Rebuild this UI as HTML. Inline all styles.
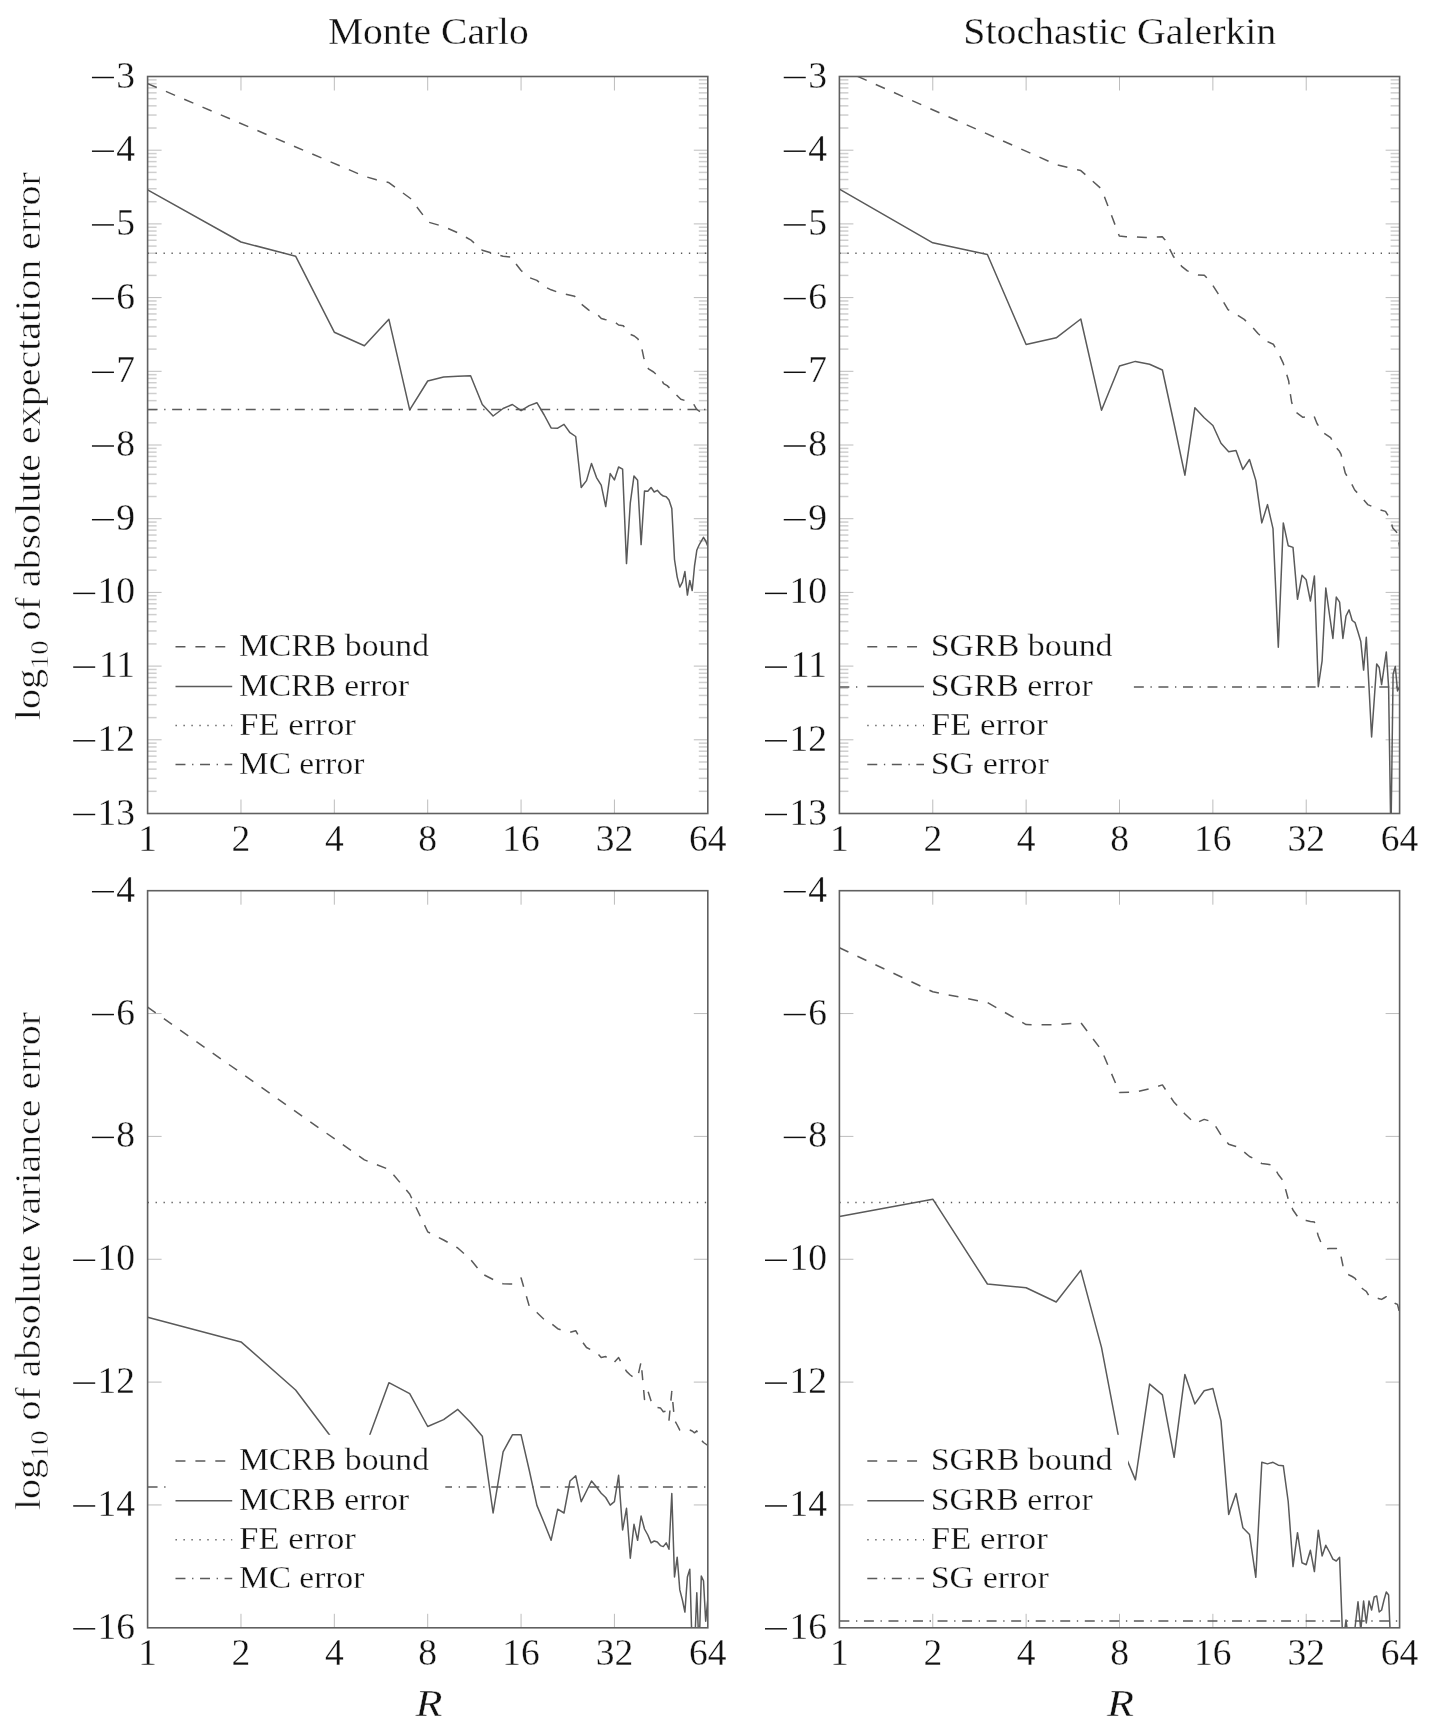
<!DOCTYPE html>
<html><head><meta charset="utf-8"><style>html,body{margin:0;padding:0;background:#fff;}svg{display:block;will-change:transform;}text{stroke:#fff;stroke-width:0.3px;paint-order:fill stroke;}</style></head><body>
<svg width="1434" height="1734" viewBox="0 0 1434 1734" font-family='"Liberation Serif", serif'>
<rect width="100%" height="100%" fill="#fff"/>
<defs>
<clipPath id="ctl"><rect x="147.60" y="76.50" width="560.20" height="737.00"/></clipPath>
<clipPath id="ctr"><rect x="839.40" y="76.50" width="560.20" height="737.00"/></clipPath>
<clipPath id="cbl"><rect x="147.60" y="890.70" width="560.20" height="737.10"/></clipPath>
<clipPath id="cbr"><rect x="839.40" y="890.70" width="560.20" height="737.10"/></clipPath>
</defs>
<text x="428.4" y="43.8" text-anchor="middle" font-size="37.5" fill="#111" textLength="201" lengthAdjust="spacingAndGlyphs">Monte Carlo</text>
<text x="1119.8" y="44.0" text-anchor="middle" font-size="37.5" fill="#111" textLength="313" lengthAdjust="spacingAndGlyphs">Stochastic Galerkin</text>
<line x1="240.97" y1="813.50" x2="240.97" y2="799.50" stroke="#bdbdbd" stroke-width="1"/>
<line x1="240.97" y1="76.50" x2="240.97" y2="90.50" stroke="#bdbdbd" stroke-width="1"/>
<line x1="334.33" y1="813.50" x2="334.33" y2="799.50" stroke="#bdbdbd" stroke-width="1"/>
<line x1="334.33" y1="76.50" x2="334.33" y2="90.50" stroke="#bdbdbd" stroke-width="1"/>
<line x1="427.70" y1="813.50" x2="427.70" y2="799.50" stroke="#bdbdbd" stroke-width="1"/>
<line x1="427.70" y1="76.50" x2="427.70" y2="90.50" stroke="#bdbdbd" stroke-width="1"/>
<line x1="521.07" y1="813.50" x2="521.07" y2="799.50" stroke="#bdbdbd" stroke-width="1"/>
<line x1="521.07" y1="76.50" x2="521.07" y2="90.50" stroke="#bdbdbd" stroke-width="1"/>
<line x1="614.43" y1="813.50" x2="614.43" y2="799.50" stroke="#bdbdbd" stroke-width="1"/>
<line x1="614.43" y1="76.50" x2="614.43" y2="90.50" stroke="#bdbdbd" stroke-width="1"/>
<line x1="147.60" y1="128.01" x2="156.60" y2="128.01" stroke="#cfcfcf" stroke-width="1.5"/>
<line x1="707.80" y1="128.01" x2="698.80" y2="128.01" stroke="#cfcfcf" stroke-width="1.5"/>
<line x1="147.60" y1="115.04" x2="156.60" y2="115.04" stroke="#cfcfcf" stroke-width="1.5"/>
<line x1="707.80" y1="115.04" x2="698.80" y2="115.04" stroke="#cfcfcf" stroke-width="1.5"/>
<line x1="147.60" y1="105.83" x2="156.60" y2="105.83" stroke="#cfcfcf" stroke-width="1.5"/>
<line x1="707.80" y1="105.83" x2="698.80" y2="105.83" stroke="#cfcfcf" stroke-width="1.5"/>
<line x1="147.60" y1="98.69" x2="156.60" y2="98.69" stroke="#cfcfcf" stroke-width="1.5"/>
<line x1="707.80" y1="98.69" x2="698.80" y2="98.69" stroke="#cfcfcf" stroke-width="1.5"/>
<line x1="147.60" y1="92.85" x2="156.60" y2="92.85" stroke="#cfcfcf" stroke-width="1.5"/>
<line x1="707.80" y1="92.85" x2="698.80" y2="92.85" stroke="#cfcfcf" stroke-width="1.5"/>
<line x1="147.60" y1="87.92" x2="156.60" y2="87.92" stroke="#cfcfcf" stroke-width="1.5"/>
<line x1="707.80" y1="87.92" x2="698.80" y2="87.92" stroke="#cfcfcf" stroke-width="1.5"/>
<line x1="147.60" y1="83.64" x2="156.60" y2="83.64" stroke="#cfcfcf" stroke-width="1.5"/>
<line x1="707.80" y1="83.64" x2="698.80" y2="83.64" stroke="#cfcfcf" stroke-width="1.5"/>
<line x1="147.60" y1="79.87" x2="156.60" y2="79.87" stroke="#cfcfcf" stroke-width="1.5"/>
<line x1="707.80" y1="79.87" x2="698.80" y2="79.87" stroke="#cfcfcf" stroke-width="1.5"/>
<line x1="147.60" y1="150.20" x2="161.60" y2="150.20" stroke="#bdbdbd" stroke-width="1"/>
<line x1="707.80" y1="150.20" x2="693.80" y2="150.20" stroke="#bdbdbd" stroke-width="1"/>
<line x1="147.60" y1="201.71" x2="156.60" y2="201.71" stroke="#cfcfcf" stroke-width="1.5"/>
<line x1="707.80" y1="201.71" x2="698.80" y2="201.71" stroke="#cfcfcf" stroke-width="1.5"/>
<line x1="147.60" y1="188.74" x2="156.60" y2="188.74" stroke="#cfcfcf" stroke-width="1.5"/>
<line x1="707.80" y1="188.74" x2="698.80" y2="188.74" stroke="#cfcfcf" stroke-width="1.5"/>
<line x1="147.60" y1="179.53" x2="156.60" y2="179.53" stroke="#cfcfcf" stroke-width="1.5"/>
<line x1="707.80" y1="179.53" x2="698.80" y2="179.53" stroke="#cfcfcf" stroke-width="1.5"/>
<line x1="147.60" y1="172.39" x2="156.60" y2="172.39" stroke="#cfcfcf" stroke-width="1.5"/>
<line x1="707.80" y1="172.39" x2="698.80" y2="172.39" stroke="#cfcfcf" stroke-width="1.5"/>
<line x1="147.60" y1="166.55" x2="156.60" y2="166.55" stroke="#cfcfcf" stroke-width="1.5"/>
<line x1="707.80" y1="166.55" x2="698.80" y2="166.55" stroke="#cfcfcf" stroke-width="1.5"/>
<line x1="147.60" y1="161.62" x2="156.60" y2="161.62" stroke="#cfcfcf" stroke-width="1.5"/>
<line x1="707.80" y1="161.62" x2="698.80" y2="161.62" stroke="#cfcfcf" stroke-width="1.5"/>
<line x1="147.60" y1="157.34" x2="156.60" y2="157.34" stroke="#cfcfcf" stroke-width="1.5"/>
<line x1="707.80" y1="157.34" x2="698.80" y2="157.34" stroke="#cfcfcf" stroke-width="1.5"/>
<line x1="147.60" y1="153.57" x2="156.60" y2="153.57" stroke="#cfcfcf" stroke-width="1.5"/>
<line x1="707.80" y1="153.57" x2="698.80" y2="153.57" stroke="#cfcfcf" stroke-width="1.5"/>
<line x1="147.60" y1="223.90" x2="161.60" y2="223.90" stroke="#bdbdbd" stroke-width="1"/>
<line x1="707.80" y1="223.90" x2="693.80" y2="223.90" stroke="#bdbdbd" stroke-width="1"/>
<line x1="147.60" y1="275.41" x2="156.60" y2="275.41" stroke="#cfcfcf" stroke-width="1.5"/>
<line x1="707.80" y1="275.41" x2="698.80" y2="275.41" stroke="#cfcfcf" stroke-width="1.5"/>
<line x1="147.60" y1="262.44" x2="156.60" y2="262.44" stroke="#cfcfcf" stroke-width="1.5"/>
<line x1="707.80" y1="262.44" x2="698.80" y2="262.44" stroke="#cfcfcf" stroke-width="1.5"/>
<line x1="147.60" y1="253.23" x2="156.60" y2="253.23" stroke="#cfcfcf" stroke-width="1.5"/>
<line x1="707.80" y1="253.23" x2="698.80" y2="253.23" stroke="#cfcfcf" stroke-width="1.5"/>
<line x1="147.60" y1="246.09" x2="156.60" y2="246.09" stroke="#cfcfcf" stroke-width="1.5"/>
<line x1="707.80" y1="246.09" x2="698.80" y2="246.09" stroke="#cfcfcf" stroke-width="1.5"/>
<line x1="147.60" y1="240.25" x2="156.60" y2="240.25" stroke="#cfcfcf" stroke-width="1.5"/>
<line x1="707.80" y1="240.25" x2="698.80" y2="240.25" stroke="#cfcfcf" stroke-width="1.5"/>
<line x1="147.60" y1="235.32" x2="156.60" y2="235.32" stroke="#cfcfcf" stroke-width="1.5"/>
<line x1="707.80" y1="235.32" x2="698.80" y2="235.32" stroke="#cfcfcf" stroke-width="1.5"/>
<line x1="147.60" y1="231.04" x2="156.60" y2="231.04" stroke="#cfcfcf" stroke-width="1.5"/>
<line x1="707.80" y1="231.04" x2="698.80" y2="231.04" stroke="#cfcfcf" stroke-width="1.5"/>
<line x1="147.60" y1="227.27" x2="156.60" y2="227.27" stroke="#cfcfcf" stroke-width="1.5"/>
<line x1="707.80" y1="227.27" x2="698.80" y2="227.27" stroke="#cfcfcf" stroke-width="1.5"/>
<line x1="147.60" y1="297.60" x2="161.60" y2="297.60" stroke="#bdbdbd" stroke-width="1"/>
<line x1="707.80" y1="297.60" x2="693.80" y2="297.60" stroke="#bdbdbd" stroke-width="1"/>
<line x1="147.60" y1="349.11" x2="156.60" y2="349.11" stroke="#cfcfcf" stroke-width="1.5"/>
<line x1="707.80" y1="349.11" x2="698.80" y2="349.11" stroke="#cfcfcf" stroke-width="1.5"/>
<line x1="147.60" y1="336.14" x2="156.60" y2="336.14" stroke="#cfcfcf" stroke-width="1.5"/>
<line x1="707.80" y1="336.14" x2="698.80" y2="336.14" stroke="#cfcfcf" stroke-width="1.5"/>
<line x1="147.60" y1="326.93" x2="156.60" y2="326.93" stroke="#cfcfcf" stroke-width="1.5"/>
<line x1="707.80" y1="326.93" x2="698.80" y2="326.93" stroke="#cfcfcf" stroke-width="1.5"/>
<line x1="147.60" y1="319.79" x2="156.60" y2="319.79" stroke="#cfcfcf" stroke-width="1.5"/>
<line x1="707.80" y1="319.79" x2="698.80" y2="319.79" stroke="#cfcfcf" stroke-width="1.5"/>
<line x1="147.60" y1="313.95" x2="156.60" y2="313.95" stroke="#cfcfcf" stroke-width="1.5"/>
<line x1="707.80" y1="313.95" x2="698.80" y2="313.95" stroke="#cfcfcf" stroke-width="1.5"/>
<line x1="147.60" y1="309.02" x2="156.60" y2="309.02" stroke="#cfcfcf" stroke-width="1.5"/>
<line x1="707.80" y1="309.02" x2="698.80" y2="309.02" stroke="#cfcfcf" stroke-width="1.5"/>
<line x1="147.60" y1="304.74" x2="156.60" y2="304.74" stroke="#cfcfcf" stroke-width="1.5"/>
<line x1="707.80" y1="304.74" x2="698.80" y2="304.74" stroke="#cfcfcf" stroke-width="1.5"/>
<line x1="147.60" y1="300.97" x2="156.60" y2="300.97" stroke="#cfcfcf" stroke-width="1.5"/>
<line x1="707.80" y1="300.97" x2="698.80" y2="300.97" stroke="#cfcfcf" stroke-width="1.5"/>
<line x1="147.60" y1="371.30" x2="161.60" y2="371.30" stroke="#bdbdbd" stroke-width="1"/>
<line x1="707.80" y1="371.30" x2="693.80" y2="371.30" stroke="#bdbdbd" stroke-width="1"/>
<line x1="147.60" y1="422.81" x2="156.60" y2="422.81" stroke="#cfcfcf" stroke-width="1.5"/>
<line x1="707.80" y1="422.81" x2="698.80" y2="422.81" stroke="#cfcfcf" stroke-width="1.5"/>
<line x1="147.60" y1="409.84" x2="156.60" y2="409.84" stroke="#cfcfcf" stroke-width="1.5"/>
<line x1="707.80" y1="409.84" x2="698.80" y2="409.84" stroke="#cfcfcf" stroke-width="1.5"/>
<line x1="147.60" y1="400.63" x2="156.60" y2="400.63" stroke="#cfcfcf" stroke-width="1.5"/>
<line x1="707.80" y1="400.63" x2="698.80" y2="400.63" stroke="#cfcfcf" stroke-width="1.5"/>
<line x1="147.60" y1="393.49" x2="156.60" y2="393.49" stroke="#cfcfcf" stroke-width="1.5"/>
<line x1="707.80" y1="393.49" x2="698.80" y2="393.49" stroke="#cfcfcf" stroke-width="1.5"/>
<line x1="147.60" y1="387.65" x2="156.60" y2="387.65" stroke="#cfcfcf" stroke-width="1.5"/>
<line x1="707.80" y1="387.65" x2="698.80" y2="387.65" stroke="#cfcfcf" stroke-width="1.5"/>
<line x1="147.60" y1="382.72" x2="156.60" y2="382.72" stroke="#cfcfcf" stroke-width="1.5"/>
<line x1="707.80" y1="382.72" x2="698.80" y2="382.72" stroke="#cfcfcf" stroke-width="1.5"/>
<line x1="147.60" y1="378.44" x2="156.60" y2="378.44" stroke="#cfcfcf" stroke-width="1.5"/>
<line x1="707.80" y1="378.44" x2="698.80" y2="378.44" stroke="#cfcfcf" stroke-width="1.5"/>
<line x1="147.60" y1="374.67" x2="156.60" y2="374.67" stroke="#cfcfcf" stroke-width="1.5"/>
<line x1="707.80" y1="374.67" x2="698.80" y2="374.67" stroke="#cfcfcf" stroke-width="1.5"/>
<line x1="147.60" y1="445.00" x2="161.60" y2="445.00" stroke="#bdbdbd" stroke-width="1"/>
<line x1="707.80" y1="445.00" x2="693.80" y2="445.00" stroke="#bdbdbd" stroke-width="1"/>
<line x1="147.60" y1="496.51" x2="156.60" y2="496.51" stroke="#cfcfcf" stroke-width="1.5"/>
<line x1="707.80" y1="496.51" x2="698.80" y2="496.51" stroke="#cfcfcf" stroke-width="1.5"/>
<line x1="147.60" y1="483.54" x2="156.60" y2="483.54" stroke="#cfcfcf" stroke-width="1.5"/>
<line x1="707.80" y1="483.54" x2="698.80" y2="483.54" stroke="#cfcfcf" stroke-width="1.5"/>
<line x1="147.60" y1="474.33" x2="156.60" y2="474.33" stroke="#cfcfcf" stroke-width="1.5"/>
<line x1="707.80" y1="474.33" x2="698.80" y2="474.33" stroke="#cfcfcf" stroke-width="1.5"/>
<line x1="147.60" y1="467.19" x2="156.60" y2="467.19" stroke="#cfcfcf" stroke-width="1.5"/>
<line x1="707.80" y1="467.19" x2="698.80" y2="467.19" stroke="#cfcfcf" stroke-width="1.5"/>
<line x1="147.60" y1="461.35" x2="156.60" y2="461.35" stroke="#cfcfcf" stroke-width="1.5"/>
<line x1="707.80" y1="461.35" x2="698.80" y2="461.35" stroke="#cfcfcf" stroke-width="1.5"/>
<line x1="147.60" y1="456.42" x2="156.60" y2="456.42" stroke="#cfcfcf" stroke-width="1.5"/>
<line x1="707.80" y1="456.42" x2="698.80" y2="456.42" stroke="#cfcfcf" stroke-width="1.5"/>
<line x1="147.60" y1="452.14" x2="156.60" y2="452.14" stroke="#cfcfcf" stroke-width="1.5"/>
<line x1="707.80" y1="452.14" x2="698.80" y2="452.14" stroke="#cfcfcf" stroke-width="1.5"/>
<line x1="147.60" y1="448.37" x2="156.60" y2="448.37" stroke="#cfcfcf" stroke-width="1.5"/>
<line x1="707.80" y1="448.37" x2="698.80" y2="448.37" stroke="#cfcfcf" stroke-width="1.5"/>
<line x1="147.60" y1="518.70" x2="161.60" y2="518.70" stroke="#bdbdbd" stroke-width="1"/>
<line x1="707.80" y1="518.70" x2="693.80" y2="518.70" stroke="#bdbdbd" stroke-width="1"/>
<line x1="147.60" y1="570.21" x2="156.60" y2="570.21" stroke="#cfcfcf" stroke-width="1.5"/>
<line x1="707.80" y1="570.21" x2="698.80" y2="570.21" stroke="#cfcfcf" stroke-width="1.5"/>
<line x1="147.60" y1="557.24" x2="156.60" y2="557.24" stroke="#cfcfcf" stroke-width="1.5"/>
<line x1="707.80" y1="557.24" x2="698.80" y2="557.24" stroke="#cfcfcf" stroke-width="1.5"/>
<line x1="147.60" y1="548.03" x2="156.60" y2="548.03" stroke="#cfcfcf" stroke-width="1.5"/>
<line x1="707.80" y1="548.03" x2="698.80" y2="548.03" stroke="#cfcfcf" stroke-width="1.5"/>
<line x1="147.60" y1="540.89" x2="156.60" y2="540.89" stroke="#cfcfcf" stroke-width="1.5"/>
<line x1="707.80" y1="540.89" x2="698.80" y2="540.89" stroke="#cfcfcf" stroke-width="1.5"/>
<line x1="147.60" y1="535.05" x2="156.60" y2="535.05" stroke="#cfcfcf" stroke-width="1.5"/>
<line x1="707.80" y1="535.05" x2="698.80" y2="535.05" stroke="#cfcfcf" stroke-width="1.5"/>
<line x1="147.60" y1="530.12" x2="156.60" y2="530.12" stroke="#cfcfcf" stroke-width="1.5"/>
<line x1="707.80" y1="530.12" x2="698.80" y2="530.12" stroke="#cfcfcf" stroke-width="1.5"/>
<line x1="147.60" y1="525.84" x2="156.60" y2="525.84" stroke="#cfcfcf" stroke-width="1.5"/>
<line x1="707.80" y1="525.84" x2="698.80" y2="525.84" stroke="#cfcfcf" stroke-width="1.5"/>
<line x1="147.60" y1="522.07" x2="156.60" y2="522.07" stroke="#cfcfcf" stroke-width="1.5"/>
<line x1="707.80" y1="522.07" x2="698.80" y2="522.07" stroke="#cfcfcf" stroke-width="1.5"/>
<line x1="147.60" y1="592.40" x2="161.60" y2="592.40" stroke="#bdbdbd" stroke-width="1"/>
<line x1="707.80" y1="592.40" x2="693.80" y2="592.40" stroke="#bdbdbd" stroke-width="1"/>
<line x1="147.60" y1="643.91" x2="156.60" y2="643.91" stroke="#cfcfcf" stroke-width="1.5"/>
<line x1="707.80" y1="643.91" x2="698.80" y2="643.91" stroke="#cfcfcf" stroke-width="1.5"/>
<line x1="147.60" y1="630.94" x2="156.60" y2="630.94" stroke="#cfcfcf" stroke-width="1.5"/>
<line x1="707.80" y1="630.94" x2="698.80" y2="630.94" stroke="#cfcfcf" stroke-width="1.5"/>
<line x1="147.60" y1="621.73" x2="156.60" y2="621.73" stroke="#cfcfcf" stroke-width="1.5"/>
<line x1="707.80" y1="621.73" x2="698.80" y2="621.73" stroke="#cfcfcf" stroke-width="1.5"/>
<line x1="147.60" y1="614.59" x2="156.60" y2="614.59" stroke="#cfcfcf" stroke-width="1.5"/>
<line x1="707.80" y1="614.59" x2="698.80" y2="614.59" stroke="#cfcfcf" stroke-width="1.5"/>
<line x1="147.60" y1="608.75" x2="156.60" y2="608.75" stroke="#cfcfcf" stroke-width="1.5"/>
<line x1="707.80" y1="608.75" x2="698.80" y2="608.75" stroke="#cfcfcf" stroke-width="1.5"/>
<line x1="147.60" y1="603.82" x2="156.60" y2="603.82" stroke="#cfcfcf" stroke-width="1.5"/>
<line x1="707.80" y1="603.82" x2="698.80" y2="603.82" stroke="#cfcfcf" stroke-width="1.5"/>
<line x1="147.60" y1="599.54" x2="156.60" y2="599.54" stroke="#cfcfcf" stroke-width="1.5"/>
<line x1="707.80" y1="599.54" x2="698.80" y2="599.54" stroke="#cfcfcf" stroke-width="1.5"/>
<line x1="147.60" y1="595.77" x2="156.60" y2="595.77" stroke="#cfcfcf" stroke-width="1.5"/>
<line x1="707.80" y1="595.77" x2="698.80" y2="595.77" stroke="#cfcfcf" stroke-width="1.5"/>
<line x1="147.60" y1="666.10" x2="161.60" y2="666.10" stroke="#bdbdbd" stroke-width="1"/>
<line x1="707.80" y1="666.10" x2="693.80" y2="666.10" stroke="#bdbdbd" stroke-width="1"/>
<line x1="147.60" y1="717.61" x2="156.60" y2="717.61" stroke="#cfcfcf" stroke-width="1.5"/>
<line x1="707.80" y1="717.61" x2="698.80" y2="717.61" stroke="#cfcfcf" stroke-width="1.5"/>
<line x1="147.60" y1="704.64" x2="156.60" y2="704.64" stroke="#cfcfcf" stroke-width="1.5"/>
<line x1="707.80" y1="704.64" x2="698.80" y2="704.64" stroke="#cfcfcf" stroke-width="1.5"/>
<line x1="147.60" y1="695.43" x2="156.60" y2="695.43" stroke="#cfcfcf" stroke-width="1.5"/>
<line x1="707.80" y1="695.43" x2="698.80" y2="695.43" stroke="#cfcfcf" stroke-width="1.5"/>
<line x1="147.60" y1="688.29" x2="156.60" y2="688.29" stroke="#cfcfcf" stroke-width="1.5"/>
<line x1="707.80" y1="688.29" x2="698.80" y2="688.29" stroke="#cfcfcf" stroke-width="1.5"/>
<line x1="147.60" y1="682.45" x2="156.60" y2="682.45" stroke="#cfcfcf" stroke-width="1.5"/>
<line x1="707.80" y1="682.45" x2="698.80" y2="682.45" stroke="#cfcfcf" stroke-width="1.5"/>
<line x1="147.60" y1="677.52" x2="156.60" y2="677.52" stroke="#cfcfcf" stroke-width="1.5"/>
<line x1="707.80" y1="677.52" x2="698.80" y2="677.52" stroke="#cfcfcf" stroke-width="1.5"/>
<line x1="147.60" y1="673.24" x2="156.60" y2="673.24" stroke="#cfcfcf" stroke-width="1.5"/>
<line x1="707.80" y1="673.24" x2="698.80" y2="673.24" stroke="#cfcfcf" stroke-width="1.5"/>
<line x1="147.60" y1="669.47" x2="156.60" y2="669.47" stroke="#cfcfcf" stroke-width="1.5"/>
<line x1="707.80" y1="669.47" x2="698.80" y2="669.47" stroke="#cfcfcf" stroke-width="1.5"/>
<line x1="147.60" y1="739.80" x2="161.60" y2="739.80" stroke="#bdbdbd" stroke-width="1"/>
<line x1="707.80" y1="739.80" x2="693.80" y2="739.80" stroke="#bdbdbd" stroke-width="1"/>
<line x1="147.60" y1="791.31" x2="156.60" y2="791.31" stroke="#cfcfcf" stroke-width="1.5"/>
<line x1="707.80" y1="791.31" x2="698.80" y2="791.31" stroke="#cfcfcf" stroke-width="1.5"/>
<line x1="147.60" y1="778.34" x2="156.60" y2="778.34" stroke="#cfcfcf" stroke-width="1.5"/>
<line x1="707.80" y1="778.34" x2="698.80" y2="778.34" stroke="#cfcfcf" stroke-width="1.5"/>
<line x1="147.60" y1="769.13" x2="156.60" y2="769.13" stroke="#cfcfcf" stroke-width="1.5"/>
<line x1="707.80" y1="769.13" x2="698.80" y2="769.13" stroke="#cfcfcf" stroke-width="1.5"/>
<line x1="147.60" y1="761.99" x2="156.60" y2="761.99" stroke="#cfcfcf" stroke-width="1.5"/>
<line x1="707.80" y1="761.99" x2="698.80" y2="761.99" stroke="#cfcfcf" stroke-width="1.5"/>
<line x1="147.60" y1="756.15" x2="156.60" y2="756.15" stroke="#cfcfcf" stroke-width="1.5"/>
<line x1="707.80" y1="756.15" x2="698.80" y2="756.15" stroke="#cfcfcf" stroke-width="1.5"/>
<line x1="147.60" y1="751.22" x2="156.60" y2="751.22" stroke="#cfcfcf" stroke-width="1.5"/>
<line x1="707.80" y1="751.22" x2="698.80" y2="751.22" stroke="#cfcfcf" stroke-width="1.5"/>
<line x1="147.60" y1="746.94" x2="156.60" y2="746.94" stroke="#cfcfcf" stroke-width="1.5"/>
<line x1="707.80" y1="746.94" x2="698.80" y2="746.94" stroke="#cfcfcf" stroke-width="1.5"/>
<line x1="147.60" y1="743.17" x2="156.60" y2="743.17" stroke="#cfcfcf" stroke-width="1.5"/>
<line x1="707.80" y1="743.17" x2="698.80" y2="743.17" stroke="#cfcfcf" stroke-width="1.5"/>
<text x="135.10" y="87.50" text-anchor="end" font-size="37.5" fill="#111">3</text>
<rect x="91.95" y="76.78" width="22.00" height="1.45" fill="#111"/>
<text x="135.10" y="161.20" text-anchor="end" font-size="37.5" fill="#111">4</text>
<rect x="91.95" y="150.47" width="22.00" height="1.45" fill="#111"/>
<text x="135.10" y="234.90" text-anchor="end" font-size="37.5" fill="#111">5</text>
<rect x="91.95" y="224.18" width="22.00" height="1.45" fill="#111"/>
<text x="135.10" y="308.60" text-anchor="end" font-size="37.5" fill="#111">6</text>
<rect x="91.95" y="297.88" width="22.00" height="1.45" fill="#111"/>
<text x="135.10" y="382.30" text-anchor="end" font-size="37.5" fill="#111">7</text>
<rect x="91.95" y="371.57" width="22.00" height="1.45" fill="#111"/>
<text x="135.10" y="456.00" text-anchor="end" font-size="37.5" fill="#111">8</text>
<rect x="91.95" y="445.27" width="22.00" height="1.45" fill="#111"/>
<text x="135.10" y="529.70" text-anchor="end" font-size="37.5" fill="#111">9</text>
<rect x="91.95" y="518.98" width="22.00" height="1.45" fill="#111"/>
<text x="135.10" y="603.40" text-anchor="end" font-size="37.5" fill="#111">10</text>
<rect x="73.20" y="592.67" width="22.00" height="1.45" fill="#111"/>
<text x="135.10" y="677.10" text-anchor="end" font-size="37.5" fill="#111">11</text>
<rect x="73.20" y="666.38" width="22.00" height="1.45" fill="#111"/>
<text x="135.10" y="750.80" text-anchor="end" font-size="37.5" fill="#111">12</text>
<rect x="73.20" y="740.07" width="22.00" height="1.45" fill="#111"/>
<text x="135.10" y="824.50" text-anchor="end" font-size="37.5" fill="#111">13</text>
<rect x="73.20" y="813.77" width="22.00" height="1.45" fill="#111"/>
<text x="147.60" y="850.50" text-anchor="middle" font-size="37.5" fill="#111">1</text>
<text x="240.97" y="850.50" text-anchor="middle" font-size="37.5" fill="#111">2</text>
<text x="334.33" y="850.50" text-anchor="middle" font-size="37.5" fill="#111">4</text>
<text x="427.70" y="850.50" text-anchor="middle" font-size="37.5" fill="#111">8</text>
<text x="521.07" y="850.50" text-anchor="middle" font-size="37.5" fill="#111">16</text>
<text x="614.43" y="850.50" text-anchor="middle" font-size="37.5" fill="#111">32</text>
<text x="707.80" y="850.50" text-anchor="middle" font-size="37.5" fill="#111">64</text>
<polyline points="147.6,253.3 707.8,253.3" fill="none" stroke="#5a5a5a" stroke-width="1.5" stroke-linejoin="round" stroke-dasharray="1.33 6.63" clip-path="url(#ctl)"/>
<polyline points="147.6,409.5 707.8,409.5" fill="none" stroke="#5a5a5a" stroke-width="1.5" stroke-linejoin="round" stroke-dasharray="9.95 6.63 1.33 6.63" clip-path="url(#ctl)"/>
<polyline points="147.6,83.6 364.4,176.3 376.4,179.8 388.5,182.4 410.5,198.5 428.3,222.1 443.6,226.5 457.8,232.8 470.6,239.8 482.3,250.2 493.1,253.5 503.1,256.3 512.4,257.3 515.0,262.7 521.1,270.5 529.3,277.6 536.9,280.4 544.2,286.4 551.1,289.8 557.7,292.2 565.2,294.1 574.6,296.2 580.9,303.8 588.8,310.1 597.1,314.0 601.3,318.5 605.0,319.5 614.4,321.8 618.6,325.0 623.3,325.7 629.0,333.9 634.3,336.0 637.9,338.8 641.6,347.5 643.7,357.4 646.3,366.8 648.9,369.1 653.6,372.0 661.0,378.8 663.6,383.6 667.2,385.6 674.0,392.4 680.8,399.2 690.8,402.4 693.9,404.5 696.5,409.2 704.9,414.9 707.8,418.3" fill="none" stroke="#5a5a5a" stroke-width="1.5" stroke-linejoin="round" stroke-dasharray="9.95 9.95" clip-path="url(#ctl)"/>
<polyline points="147.6,189.9 241.0,242.0 295.6,256.2 334.3,332.2 364.4,345.8 388.9,319.3 409.7,409.9 427.7,381.0 443.6,376.9 457.8,376.3 470.6,375.7 482.3,404.5 493.1,416.0 503.1,408.5 512.4,404.5 521.1,410.7 529.2,405.6 536.9,402.7 544.2,415.0 551.1,427.9 557.7,428.2 564.0,424.4 570.0,432.7 575.7,436.5 581.2,487.5 586.5,480.6 591.5,463.4 596.5,477.6 601.2,485.2 605.7,506.6 610.2,473.6 614.4,479.9 618.6,467.0 622.6,469.1 626.5,563.6 630.3,502.8 634.0,475.9 637.6,480.2 641.1,544.6 644.5,491.1 647.8,491.3 651.1,487.5 654.2,492.0 657.3,490.3 660.4,493.8 663.3,496.1 666.2,496.7 669.0,500.1 671.8,508.5 674.5,559.5 677.2,577.1 679.8,587.1 682.4,582.1 684.9,571.6 687.4,595.1 689.8,580.4 692.2,590.5 694.5,566.2 696.8,550.3 699.1,545.0 701.3,541.1 703.5,537.3 705.7,541.0 707.8,546.1" fill="none" stroke="#5a5a5a" stroke-width="1.5" stroke-linejoin="round" clip-path="url(#ctl)"/>
<rect x="166.60" y="620.60" width="278.70" height="171.00" fill="#fff"/>
<polyline points="175.5,646.8 232.2,646.8" fill="none" stroke="#5a5a5a" stroke-width="1.5" stroke-linejoin="round" stroke-dasharray="9.95 9.95"/>
<text x="238.90" y="656.00" font-size="31" fill="#111" textLength="190.2" lengthAdjust="spacingAndGlyphs">MCRB bound</text>
<polyline points="175.5,686.5 232.2,686.5" fill="none" stroke="#5a5a5a" stroke-width="1.5" stroke-linejoin="round"/>
<text x="238.90" y="695.70" font-size="31" fill="#111" textLength="170.4" lengthAdjust="spacingAndGlyphs">MCRB error</text>
<polyline points="175.5,725.6 232.2,725.6" fill="none" stroke="#5a5a5a" stroke-width="1.5" stroke-linejoin="round" stroke-dasharray="1.33 6.63"/>
<text x="238.90" y="734.80" font-size="31" fill="#111" textLength="117.0" lengthAdjust="spacingAndGlyphs">FE error</text>
<polyline points="175.5,764.4 232.2,764.4" fill="none" stroke="#5a5a5a" stroke-width="1.5" stroke-linejoin="round" stroke-dasharray="9.95 6.63 1.33 6.63"/>
<text x="238.90" y="773.60" font-size="31" fill="#111" textLength="125.4" lengthAdjust="spacingAndGlyphs">MC error</text>
<rect x="147.60" y="76.50" width="560.20" height="737.00" fill="none" stroke="#606060" stroke-width="1.6"/>
<line x1="932.77" y1="813.50" x2="932.77" y2="799.50" stroke="#bdbdbd" stroke-width="1"/>
<line x1="932.77" y1="76.50" x2="932.77" y2="90.50" stroke="#bdbdbd" stroke-width="1"/>
<line x1="1026.13" y1="813.50" x2="1026.13" y2="799.50" stroke="#bdbdbd" stroke-width="1"/>
<line x1="1026.13" y1="76.50" x2="1026.13" y2="90.50" stroke="#bdbdbd" stroke-width="1"/>
<line x1="1119.50" y1="813.50" x2="1119.50" y2="799.50" stroke="#bdbdbd" stroke-width="1"/>
<line x1="1119.50" y1="76.50" x2="1119.50" y2="90.50" stroke="#bdbdbd" stroke-width="1"/>
<line x1="1212.87" y1="813.50" x2="1212.87" y2="799.50" stroke="#bdbdbd" stroke-width="1"/>
<line x1="1212.87" y1="76.50" x2="1212.87" y2="90.50" stroke="#bdbdbd" stroke-width="1"/>
<line x1="1306.23" y1="813.50" x2="1306.23" y2="799.50" stroke="#bdbdbd" stroke-width="1"/>
<line x1="1306.23" y1="76.50" x2="1306.23" y2="90.50" stroke="#bdbdbd" stroke-width="1"/>
<line x1="839.40" y1="128.01" x2="848.40" y2="128.01" stroke="#cfcfcf" stroke-width="1.5"/>
<line x1="1399.60" y1="128.01" x2="1390.60" y2="128.01" stroke="#cfcfcf" stroke-width="1.5"/>
<line x1="839.40" y1="115.04" x2="848.40" y2="115.04" stroke="#cfcfcf" stroke-width="1.5"/>
<line x1="1399.60" y1="115.04" x2="1390.60" y2="115.04" stroke="#cfcfcf" stroke-width="1.5"/>
<line x1="839.40" y1="105.83" x2="848.40" y2="105.83" stroke="#cfcfcf" stroke-width="1.5"/>
<line x1="1399.60" y1="105.83" x2="1390.60" y2="105.83" stroke="#cfcfcf" stroke-width="1.5"/>
<line x1="839.40" y1="98.69" x2="848.40" y2="98.69" stroke="#cfcfcf" stroke-width="1.5"/>
<line x1="1399.60" y1="98.69" x2="1390.60" y2="98.69" stroke="#cfcfcf" stroke-width="1.5"/>
<line x1="839.40" y1="92.85" x2="848.40" y2="92.85" stroke="#cfcfcf" stroke-width="1.5"/>
<line x1="1399.60" y1="92.85" x2="1390.60" y2="92.85" stroke="#cfcfcf" stroke-width="1.5"/>
<line x1="839.40" y1="87.92" x2="848.40" y2="87.92" stroke="#cfcfcf" stroke-width="1.5"/>
<line x1="1399.60" y1="87.92" x2="1390.60" y2="87.92" stroke="#cfcfcf" stroke-width="1.5"/>
<line x1="839.40" y1="83.64" x2="848.40" y2="83.64" stroke="#cfcfcf" stroke-width="1.5"/>
<line x1="1399.60" y1="83.64" x2="1390.60" y2="83.64" stroke="#cfcfcf" stroke-width="1.5"/>
<line x1="839.40" y1="79.87" x2="848.40" y2="79.87" stroke="#cfcfcf" stroke-width="1.5"/>
<line x1="1399.60" y1="79.87" x2="1390.60" y2="79.87" stroke="#cfcfcf" stroke-width="1.5"/>
<line x1="839.40" y1="150.20" x2="853.40" y2="150.20" stroke="#bdbdbd" stroke-width="1"/>
<line x1="1399.60" y1="150.20" x2="1385.60" y2="150.20" stroke="#bdbdbd" stroke-width="1"/>
<line x1="839.40" y1="201.71" x2="848.40" y2="201.71" stroke="#cfcfcf" stroke-width="1.5"/>
<line x1="1399.60" y1="201.71" x2="1390.60" y2="201.71" stroke="#cfcfcf" stroke-width="1.5"/>
<line x1="839.40" y1="188.74" x2="848.40" y2="188.74" stroke="#cfcfcf" stroke-width="1.5"/>
<line x1="1399.60" y1="188.74" x2="1390.60" y2="188.74" stroke="#cfcfcf" stroke-width="1.5"/>
<line x1="839.40" y1="179.53" x2="848.40" y2="179.53" stroke="#cfcfcf" stroke-width="1.5"/>
<line x1="1399.60" y1="179.53" x2="1390.60" y2="179.53" stroke="#cfcfcf" stroke-width="1.5"/>
<line x1="839.40" y1="172.39" x2="848.40" y2="172.39" stroke="#cfcfcf" stroke-width="1.5"/>
<line x1="1399.60" y1="172.39" x2="1390.60" y2="172.39" stroke="#cfcfcf" stroke-width="1.5"/>
<line x1="839.40" y1="166.55" x2="848.40" y2="166.55" stroke="#cfcfcf" stroke-width="1.5"/>
<line x1="1399.60" y1="166.55" x2="1390.60" y2="166.55" stroke="#cfcfcf" stroke-width="1.5"/>
<line x1="839.40" y1="161.62" x2="848.40" y2="161.62" stroke="#cfcfcf" stroke-width="1.5"/>
<line x1="1399.60" y1="161.62" x2="1390.60" y2="161.62" stroke="#cfcfcf" stroke-width="1.5"/>
<line x1="839.40" y1="157.34" x2="848.40" y2="157.34" stroke="#cfcfcf" stroke-width="1.5"/>
<line x1="1399.60" y1="157.34" x2="1390.60" y2="157.34" stroke="#cfcfcf" stroke-width="1.5"/>
<line x1="839.40" y1="153.57" x2="848.40" y2="153.57" stroke="#cfcfcf" stroke-width="1.5"/>
<line x1="1399.60" y1="153.57" x2="1390.60" y2="153.57" stroke="#cfcfcf" stroke-width="1.5"/>
<line x1="839.40" y1="223.90" x2="853.40" y2="223.90" stroke="#bdbdbd" stroke-width="1"/>
<line x1="1399.60" y1="223.90" x2="1385.60" y2="223.90" stroke="#bdbdbd" stroke-width="1"/>
<line x1="839.40" y1="275.41" x2="848.40" y2="275.41" stroke="#cfcfcf" stroke-width="1.5"/>
<line x1="1399.60" y1="275.41" x2="1390.60" y2="275.41" stroke="#cfcfcf" stroke-width="1.5"/>
<line x1="839.40" y1="262.44" x2="848.40" y2="262.44" stroke="#cfcfcf" stroke-width="1.5"/>
<line x1="1399.60" y1="262.44" x2="1390.60" y2="262.44" stroke="#cfcfcf" stroke-width="1.5"/>
<line x1="839.40" y1="253.23" x2="848.40" y2="253.23" stroke="#cfcfcf" stroke-width="1.5"/>
<line x1="1399.60" y1="253.23" x2="1390.60" y2="253.23" stroke="#cfcfcf" stroke-width="1.5"/>
<line x1="839.40" y1="246.09" x2="848.40" y2="246.09" stroke="#cfcfcf" stroke-width="1.5"/>
<line x1="1399.60" y1="246.09" x2="1390.60" y2="246.09" stroke="#cfcfcf" stroke-width="1.5"/>
<line x1="839.40" y1="240.25" x2="848.40" y2="240.25" stroke="#cfcfcf" stroke-width="1.5"/>
<line x1="1399.60" y1="240.25" x2="1390.60" y2="240.25" stroke="#cfcfcf" stroke-width="1.5"/>
<line x1="839.40" y1="235.32" x2="848.40" y2="235.32" stroke="#cfcfcf" stroke-width="1.5"/>
<line x1="1399.60" y1="235.32" x2="1390.60" y2="235.32" stroke="#cfcfcf" stroke-width="1.5"/>
<line x1="839.40" y1="231.04" x2="848.40" y2="231.04" stroke="#cfcfcf" stroke-width="1.5"/>
<line x1="1399.60" y1="231.04" x2="1390.60" y2="231.04" stroke="#cfcfcf" stroke-width="1.5"/>
<line x1="839.40" y1="227.27" x2="848.40" y2="227.27" stroke="#cfcfcf" stroke-width="1.5"/>
<line x1="1399.60" y1="227.27" x2="1390.60" y2="227.27" stroke="#cfcfcf" stroke-width="1.5"/>
<line x1="839.40" y1="297.60" x2="853.40" y2="297.60" stroke="#bdbdbd" stroke-width="1"/>
<line x1="1399.60" y1="297.60" x2="1385.60" y2="297.60" stroke="#bdbdbd" stroke-width="1"/>
<line x1="839.40" y1="349.11" x2="848.40" y2="349.11" stroke="#cfcfcf" stroke-width="1.5"/>
<line x1="1399.60" y1="349.11" x2="1390.60" y2="349.11" stroke="#cfcfcf" stroke-width="1.5"/>
<line x1="839.40" y1="336.14" x2="848.40" y2="336.14" stroke="#cfcfcf" stroke-width="1.5"/>
<line x1="1399.60" y1="336.14" x2="1390.60" y2="336.14" stroke="#cfcfcf" stroke-width="1.5"/>
<line x1="839.40" y1="326.93" x2="848.40" y2="326.93" stroke="#cfcfcf" stroke-width="1.5"/>
<line x1="1399.60" y1="326.93" x2="1390.60" y2="326.93" stroke="#cfcfcf" stroke-width="1.5"/>
<line x1="839.40" y1="319.79" x2="848.40" y2="319.79" stroke="#cfcfcf" stroke-width="1.5"/>
<line x1="1399.60" y1="319.79" x2="1390.60" y2="319.79" stroke="#cfcfcf" stroke-width="1.5"/>
<line x1="839.40" y1="313.95" x2="848.40" y2="313.95" stroke="#cfcfcf" stroke-width="1.5"/>
<line x1="1399.60" y1="313.95" x2="1390.60" y2="313.95" stroke="#cfcfcf" stroke-width="1.5"/>
<line x1="839.40" y1="309.02" x2="848.40" y2="309.02" stroke="#cfcfcf" stroke-width="1.5"/>
<line x1="1399.60" y1="309.02" x2="1390.60" y2="309.02" stroke="#cfcfcf" stroke-width="1.5"/>
<line x1="839.40" y1="304.74" x2="848.40" y2="304.74" stroke="#cfcfcf" stroke-width="1.5"/>
<line x1="1399.60" y1="304.74" x2="1390.60" y2="304.74" stroke="#cfcfcf" stroke-width="1.5"/>
<line x1="839.40" y1="300.97" x2="848.40" y2="300.97" stroke="#cfcfcf" stroke-width="1.5"/>
<line x1="1399.60" y1="300.97" x2="1390.60" y2="300.97" stroke="#cfcfcf" stroke-width="1.5"/>
<line x1="839.40" y1="371.30" x2="853.40" y2="371.30" stroke="#bdbdbd" stroke-width="1"/>
<line x1="1399.60" y1="371.30" x2="1385.60" y2="371.30" stroke="#bdbdbd" stroke-width="1"/>
<line x1="839.40" y1="422.81" x2="848.40" y2="422.81" stroke="#cfcfcf" stroke-width="1.5"/>
<line x1="1399.60" y1="422.81" x2="1390.60" y2="422.81" stroke="#cfcfcf" stroke-width="1.5"/>
<line x1="839.40" y1="409.84" x2="848.40" y2="409.84" stroke="#cfcfcf" stroke-width="1.5"/>
<line x1="1399.60" y1="409.84" x2="1390.60" y2="409.84" stroke="#cfcfcf" stroke-width="1.5"/>
<line x1="839.40" y1="400.63" x2="848.40" y2="400.63" stroke="#cfcfcf" stroke-width="1.5"/>
<line x1="1399.60" y1="400.63" x2="1390.60" y2="400.63" stroke="#cfcfcf" stroke-width="1.5"/>
<line x1="839.40" y1="393.49" x2="848.40" y2="393.49" stroke="#cfcfcf" stroke-width="1.5"/>
<line x1="1399.60" y1="393.49" x2="1390.60" y2="393.49" stroke="#cfcfcf" stroke-width="1.5"/>
<line x1="839.40" y1="387.65" x2="848.40" y2="387.65" stroke="#cfcfcf" stroke-width="1.5"/>
<line x1="1399.60" y1="387.65" x2="1390.60" y2="387.65" stroke="#cfcfcf" stroke-width="1.5"/>
<line x1="839.40" y1="382.72" x2="848.40" y2="382.72" stroke="#cfcfcf" stroke-width="1.5"/>
<line x1="1399.60" y1="382.72" x2="1390.60" y2="382.72" stroke="#cfcfcf" stroke-width="1.5"/>
<line x1="839.40" y1="378.44" x2="848.40" y2="378.44" stroke="#cfcfcf" stroke-width="1.5"/>
<line x1="1399.60" y1="378.44" x2="1390.60" y2="378.44" stroke="#cfcfcf" stroke-width="1.5"/>
<line x1="839.40" y1="374.67" x2="848.40" y2="374.67" stroke="#cfcfcf" stroke-width="1.5"/>
<line x1="1399.60" y1="374.67" x2="1390.60" y2="374.67" stroke="#cfcfcf" stroke-width="1.5"/>
<line x1="839.40" y1="445.00" x2="853.40" y2="445.00" stroke="#bdbdbd" stroke-width="1"/>
<line x1="1399.60" y1="445.00" x2="1385.60" y2="445.00" stroke="#bdbdbd" stroke-width="1"/>
<line x1="839.40" y1="496.51" x2="848.40" y2="496.51" stroke="#cfcfcf" stroke-width="1.5"/>
<line x1="1399.60" y1="496.51" x2="1390.60" y2="496.51" stroke="#cfcfcf" stroke-width="1.5"/>
<line x1="839.40" y1="483.54" x2="848.40" y2="483.54" stroke="#cfcfcf" stroke-width="1.5"/>
<line x1="1399.60" y1="483.54" x2="1390.60" y2="483.54" stroke="#cfcfcf" stroke-width="1.5"/>
<line x1="839.40" y1="474.33" x2="848.40" y2="474.33" stroke="#cfcfcf" stroke-width="1.5"/>
<line x1="1399.60" y1="474.33" x2="1390.60" y2="474.33" stroke="#cfcfcf" stroke-width="1.5"/>
<line x1="839.40" y1="467.19" x2="848.40" y2="467.19" stroke="#cfcfcf" stroke-width="1.5"/>
<line x1="1399.60" y1="467.19" x2="1390.60" y2="467.19" stroke="#cfcfcf" stroke-width="1.5"/>
<line x1="839.40" y1="461.35" x2="848.40" y2="461.35" stroke="#cfcfcf" stroke-width="1.5"/>
<line x1="1399.60" y1="461.35" x2="1390.60" y2="461.35" stroke="#cfcfcf" stroke-width="1.5"/>
<line x1="839.40" y1="456.42" x2="848.40" y2="456.42" stroke="#cfcfcf" stroke-width="1.5"/>
<line x1="1399.60" y1="456.42" x2="1390.60" y2="456.42" stroke="#cfcfcf" stroke-width="1.5"/>
<line x1="839.40" y1="452.14" x2="848.40" y2="452.14" stroke="#cfcfcf" stroke-width="1.5"/>
<line x1="1399.60" y1="452.14" x2="1390.60" y2="452.14" stroke="#cfcfcf" stroke-width="1.5"/>
<line x1="839.40" y1="448.37" x2="848.40" y2="448.37" stroke="#cfcfcf" stroke-width="1.5"/>
<line x1="1399.60" y1="448.37" x2="1390.60" y2="448.37" stroke="#cfcfcf" stroke-width="1.5"/>
<line x1="839.40" y1="518.70" x2="853.40" y2="518.70" stroke="#bdbdbd" stroke-width="1"/>
<line x1="1399.60" y1="518.70" x2="1385.60" y2="518.70" stroke="#bdbdbd" stroke-width="1"/>
<line x1="839.40" y1="570.21" x2="848.40" y2="570.21" stroke="#cfcfcf" stroke-width="1.5"/>
<line x1="1399.60" y1="570.21" x2="1390.60" y2="570.21" stroke="#cfcfcf" stroke-width="1.5"/>
<line x1="839.40" y1="557.24" x2="848.40" y2="557.24" stroke="#cfcfcf" stroke-width="1.5"/>
<line x1="1399.60" y1="557.24" x2="1390.60" y2="557.24" stroke="#cfcfcf" stroke-width="1.5"/>
<line x1="839.40" y1="548.03" x2="848.40" y2="548.03" stroke="#cfcfcf" stroke-width="1.5"/>
<line x1="1399.60" y1="548.03" x2="1390.60" y2="548.03" stroke="#cfcfcf" stroke-width="1.5"/>
<line x1="839.40" y1="540.89" x2="848.40" y2="540.89" stroke="#cfcfcf" stroke-width="1.5"/>
<line x1="1399.60" y1="540.89" x2="1390.60" y2="540.89" stroke="#cfcfcf" stroke-width="1.5"/>
<line x1="839.40" y1="535.05" x2="848.40" y2="535.05" stroke="#cfcfcf" stroke-width="1.5"/>
<line x1="1399.60" y1="535.05" x2="1390.60" y2="535.05" stroke="#cfcfcf" stroke-width="1.5"/>
<line x1="839.40" y1="530.12" x2="848.40" y2="530.12" stroke="#cfcfcf" stroke-width="1.5"/>
<line x1="1399.60" y1="530.12" x2="1390.60" y2="530.12" stroke="#cfcfcf" stroke-width="1.5"/>
<line x1="839.40" y1="525.84" x2="848.40" y2="525.84" stroke="#cfcfcf" stroke-width="1.5"/>
<line x1="1399.60" y1="525.84" x2="1390.60" y2="525.84" stroke="#cfcfcf" stroke-width="1.5"/>
<line x1="839.40" y1="522.07" x2="848.40" y2="522.07" stroke="#cfcfcf" stroke-width="1.5"/>
<line x1="1399.60" y1="522.07" x2="1390.60" y2="522.07" stroke="#cfcfcf" stroke-width="1.5"/>
<line x1="839.40" y1="592.40" x2="853.40" y2="592.40" stroke="#bdbdbd" stroke-width="1"/>
<line x1="1399.60" y1="592.40" x2="1385.60" y2="592.40" stroke="#bdbdbd" stroke-width="1"/>
<line x1="839.40" y1="643.91" x2="848.40" y2="643.91" stroke="#cfcfcf" stroke-width="1.5"/>
<line x1="1399.60" y1="643.91" x2="1390.60" y2="643.91" stroke="#cfcfcf" stroke-width="1.5"/>
<line x1="839.40" y1="630.94" x2="848.40" y2="630.94" stroke="#cfcfcf" stroke-width="1.5"/>
<line x1="1399.60" y1="630.94" x2="1390.60" y2="630.94" stroke="#cfcfcf" stroke-width="1.5"/>
<line x1="839.40" y1="621.73" x2="848.40" y2="621.73" stroke="#cfcfcf" stroke-width="1.5"/>
<line x1="1399.60" y1="621.73" x2="1390.60" y2="621.73" stroke="#cfcfcf" stroke-width="1.5"/>
<line x1="839.40" y1="614.59" x2="848.40" y2="614.59" stroke="#cfcfcf" stroke-width="1.5"/>
<line x1="1399.60" y1="614.59" x2="1390.60" y2="614.59" stroke="#cfcfcf" stroke-width="1.5"/>
<line x1="839.40" y1="608.75" x2="848.40" y2="608.75" stroke="#cfcfcf" stroke-width="1.5"/>
<line x1="1399.60" y1="608.75" x2="1390.60" y2="608.75" stroke="#cfcfcf" stroke-width="1.5"/>
<line x1="839.40" y1="603.82" x2="848.40" y2="603.82" stroke="#cfcfcf" stroke-width="1.5"/>
<line x1="1399.60" y1="603.82" x2="1390.60" y2="603.82" stroke="#cfcfcf" stroke-width="1.5"/>
<line x1="839.40" y1="599.54" x2="848.40" y2="599.54" stroke="#cfcfcf" stroke-width="1.5"/>
<line x1="1399.60" y1="599.54" x2="1390.60" y2="599.54" stroke="#cfcfcf" stroke-width="1.5"/>
<line x1="839.40" y1="595.77" x2="848.40" y2="595.77" stroke="#cfcfcf" stroke-width="1.5"/>
<line x1="1399.60" y1="595.77" x2="1390.60" y2="595.77" stroke="#cfcfcf" stroke-width="1.5"/>
<line x1="839.40" y1="666.10" x2="853.40" y2="666.10" stroke="#bdbdbd" stroke-width="1"/>
<line x1="1399.60" y1="666.10" x2="1385.60" y2="666.10" stroke="#bdbdbd" stroke-width="1"/>
<line x1="839.40" y1="717.61" x2="848.40" y2="717.61" stroke="#cfcfcf" stroke-width="1.5"/>
<line x1="1399.60" y1="717.61" x2="1390.60" y2="717.61" stroke="#cfcfcf" stroke-width="1.5"/>
<line x1="839.40" y1="704.64" x2="848.40" y2="704.64" stroke="#cfcfcf" stroke-width="1.5"/>
<line x1="1399.60" y1="704.64" x2="1390.60" y2="704.64" stroke="#cfcfcf" stroke-width="1.5"/>
<line x1="839.40" y1="695.43" x2="848.40" y2="695.43" stroke="#cfcfcf" stroke-width="1.5"/>
<line x1="1399.60" y1="695.43" x2="1390.60" y2="695.43" stroke="#cfcfcf" stroke-width="1.5"/>
<line x1="839.40" y1="688.29" x2="848.40" y2="688.29" stroke="#cfcfcf" stroke-width="1.5"/>
<line x1="1399.60" y1="688.29" x2="1390.60" y2="688.29" stroke="#cfcfcf" stroke-width="1.5"/>
<line x1="839.40" y1="682.45" x2="848.40" y2="682.45" stroke="#cfcfcf" stroke-width="1.5"/>
<line x1="1399.60" y1="682.45" x2="1390.60" y2="682.45" stroke="#cfcfcf" stroke-width="1.5"/>
<line x1="839.40" y1="677.52" x2="848.40" y2="677.52" stroke="#cfcfcf" stroke-width="1.5"/>
<line x1="1399.60" y1="677.52" x2="1390.60" y2="677.52" stroke="#cfcfcf" stroke-width="1.5"/>
<line x1="839.40" y1="673.24" x2="848.40" y2="673.24" stroke="#cfcfcf" stroke-width="1.5"/>
<line x1="1399.60" y1="673.24" x2="1390.60" y2="673.24" stroke="#cfcfcf" stroke-width="1.5"/>
<line x1="839.40" y1="669.47" x2="848.40" y2="669.47" stroke="#cfcfcf" stroke-width="1.5"/>
<line x1="1399.60" y1="669.47" x2="1390.60" y2="669.47" stroke="#cfcfcf" stroke-width="1.5"/>
<line x1="839.40" y1="739.80" x2="853.40" y2="739.80" stroke="#bdbdbd" stroke-width="1"/>
<line x1="1399.60" y1="739.80" x2="1385.60" y2="739.80" stroke="#bdbdbd" stroke-width="1"/>
<line x1="839.40" y1="791.31" x2="848.40" y2="791.31" stroke="#cfcfcf" stroke-width="1.5"/>
<line x1="1399.60" y1="791.31" x2="1390.60" y2="791.31" stroke="#cfcfcf" stroke-width="1.5"/>
<line x1="839.40" y1="778.34" x2="848.40" y2="778.34" stroke="#cfcfcf" stroke-width="1.5"/>
<line x1="1399.60" y1="778.34" x2="1390.60" y2="778.34" stroke="#cfcfcf" stroke-width="1.5"/>
<line x1="839.40" y1="769.13" x2="848.40" y2="769.13" stroke="#cfcfcf" stroke-width="1.5"/>
<line x1="1399.60" y1="769.13" x2="1390.60" y2="769.13" stroke="#cfcfcf" stroke-width="1.5"/>
<line x1="839.40" y1="761.99" x2="848.40" y2="761.99" stroke="#cfcfcf" stroke-width="1.5"/>
<line x1="1399.60" y1="761.99" x2="1390.60" y2="761.99" stroke="#cfcfcf" stroke-width="1.5"/>
<line x1="839.40" y1="756.15" x2="848.40" y2="756.15" stroke="#cfcfcf" stroke-width="1.5"/>
<line x1="1399.60" y1="756.15" x2="1390.60" y2="756.15" stroke="#cfcfcf" stroke-width="1.5"/>
<line x1="839.40" y1="751.22" x2="848.40" y2="751.22" stroke="#cfcfcf" stroke-width="1.5"/>
<line x1="1399.60" y1="751.22" x2="1390.60" y2="751.22" stroke="#cfcfcf" stroke-width="1.5"/>
<line x1="839.40" y1="746.94" x2="848.40" y2="746.94" stroke="#cfcfcf" stroke-width="1.5"/>
<line x1="1399.60" y1="746.94" x2="1390.60" y2="746.94" stroke="#cfcfcf" stroke-width="1.5"/>
<line x1="839.40" y1="743.17" x2="848.40" y2="743.17" stroke="#cfcfcf" stroke-width="1.5"/>
<line x1="1399.60" y1="743.17" x2="1390.60" y2="743.17" stroke="#cfcfcf" stroke-width="1.5"/>
<text x="826.90" y="87.50" text-anchor="end" font-size="37.5" fill="#111">3</text>
<rect x="783.75" y="76.78" width="22.00" height="1.45" fill="#111"/>
<text x="826.90" y="161.20" text-anchor="end" font-size="37.5" fill="#111">4</text>
<rect x="783.75" y="150.47" width="22.00" height="1.45" fill="#111"/>
<text x="826.90" y="234.90" text-anchor="end" font-size="37.5" fill="#111">5</text>
<rect x="783.75" y="224.18" width="22.00" height="1.45" fill="#111"/>
<text x="826.90" y="308.60" text-anchor="end" font-size="37.5" fill="#111">6</text>
<rect x="783.75" y="297.88" width="22.00" height="1.45" fill="#111"/>
<text x="826.90" y="382.30" text-anchor="end" font-size="37.5" fill="#111">7</text>
<rect x="783.75" y="371.57" width="22.00" height="1.45" fill="#111"/>
<text x="826.90" y="456.00" text-anchor="end" font-size="37.5" fill="#111">8</text>
<rect x="783.75" y="445.27" width="22.00" height="1.45" fill="#111"/>
<text x="826.90" y="529.70" text-anchor="end" font-size="37.5" fill="#111">9</text>
<rect x="783.75" y="518.98" width="22.00" height="1.45" fill="#111"/>
<text x="826.90" y="603.40" text-anchor="end" font-size="37.5" fill="#111">10</text>
<rect x="765.00" y="592.67" width="22.00" height="1.45" fill="#111"/>
<text x="826.90" y="677.10" text-anchor="end" font-size="37.5" fill="#111">11</text>
<rect x="765.00" y="666.38" width="22.00" height="1.45" fill="#111"/>
<text x="826.90" y="750.80" text-anchor="end" font-size="37.5" fill="#111">12</text>
<rect x="765.00" y="740.07" width="22.00" height="1.45" fill="#111"/>
<text x="826.90" y="824.50" text-anchor="end" font-size="37.5" fill="#111">13</text>
<rect x="765.00" y="813.77" width="22.00" height="1.45" fill="#111"/>
<text x="839.40" y="850.50" text-anchor="middle" font-size="37.5" fill="#111">1</text>
<text x="932.77" y="850.50" text-anchor="middle" font-size="37.5" fill="#111">2</text>
<text x="1026.13" y="850.50" text-anchor="middle" font-size="37.5" fill="#111">4</text>
<text x="1119.50" y="850.50" text-anchor="middle" font-size="37.5" fill="#111">8</text>
<text x="1212.87" y="850.50" text-anchor="middle" font-size="37.5" fill="#111">16</text>
<text x="1306.23" y="850.50" text-anchor="middle" font-size="37.5" fill="#111">32</text>
<text x="1399.60" y="850.50" text-anchor="middle" font-size="37.5" fill="#111">64</text>
<polyline points="839.4,253.3 1399.6,253.3" fill="none" stroke="#5a5a5a" stroke-width="1.5" stroke-linejoin="round" stroke-dasharray="1.33 6.63" clip-path="url(#ctr)"/>
<polyline points="839.4,687.0 1399.6,687.0" fill="none" stroke="#5a5a5a" stroke-width="1.5" stroke-linejoin="round" stroke-dasharray="9.95 6.63 1.33 6.63" clip-path="url(#ctr)"/>
<polyline points="839.4,68.3 1056.2,164.6 1067.2,167.3 1080.8,170.6 1101.5,189.0 1119.3,236.0 1126.0,236.8 1136.8,237.1 1146.0,237.6 1162.3,236.8 1165.1,239.9 1173.6,256.8 1182.0,266.7 1187.4,270.9 1198.1,274.9 1204.3,275.2 1205.8,276.7 1212.7,285.2 1218.1,293.6 1223.5,302.0 1228.0,309.7 1237.3,315.1 1244.2,319.4 1252.6,327.3 1258.0,333.5 1266.4,341.1 1273.3,344.2 1279.4,355.0 1283.3,363.4 1286.4,373.4 1288.7,381.0 1290.2,393.3 1291.7,402.5 1295.0,411.5 1302.9,417.3 1313.9,415.7 1317.0,423.5 1322.8,432.4 1330.6,437.7 1335.3,446.5 1339.5,451.3 1341.1,454.4 1343.2,464.9 1345.3,473.2 1351.0,482.6 1354.7,490.0 1362.0,497.8 1367.7,504.6 1377.7,508.8 1379.8,509.8 1385.5,511.4 1390.2,519.2 1392.8,528.1 1397.4,533.0 1399.6,547.0" fill="none" stroke="#5a5a5a" stroke-width="1.5" stroke-linejoin="round" stroke-dasharray="9.95 9.95" clip-path="url(#ctr)"/>
<polyline points="839.4,189.2 932.8,242.8 987.4,254.5 1026.1,344.5 1056.2,337.8 1080.8,319.0 1101.5,410.2 1119.5,366.0 1135.4,361.4 1149.6,364.2 1162.4,370.0 1174.1,424.0 1184.9,475.2 1194.9,407.7 1204.2,417.7 1212.9,425.5 1221.0,443.3 1228.7,451.7 1236.0,450.6 1242.9,469.4 1249.5,459.5 1255.8,480.4 1261.8,522.9 1267.5,504.6 1273.0,528.6 1278.3,647.3 1283.3,522.9 1288.2,545.7 1293.0,547.4 1297.5,599.3 1302.0,575.3 1306.2,579.8 1310.4,601.0 1314.4,575.9 1318.3,686.7 1322.1,660.8 1325.8,588.1 1329.4,614.0 1332.9,638.4 1336.3,597.1 1339.6,602.1 1342.9,638.4 1346.0,616.0 1349.1,609.9 1352.2,620.5 1355.1,622.7 1358.0,632.0 1360.8,641.5 1363.6,670.1 1366.3,637.2 1369.0,687.0 1371.6,737.0 1374.2,700.0 1376.7,663.9 1379.2,667.5 1381.6,684.6 1384.0,668.0 1386.3,651.9 1388.6,686.7 1390.9,840.0 1393.1,674.2 1395.3,666.5 1397.5,690.9 1399.6,686.7" fill="none" stroke="#5a5a5a" stroke-width="1.5" stroke-linejoin="round" clip-path="url(#ctr)"/>
<rect x="858.40" y="620.60" width="269.60" height="171.00" fill="#fff"/>
<polyline points="867.3,646.8 924.0,646.8" fill="none" stroke="#5a5a5a" stroke-width="1.5" stroke-linejoin="round" stroke-dasharray="9.95 9.95"/>
<text x="930.70" y="656.00" font-size="31" fill="#111" textLength="181.9" lengthAdjust="spacingAndGlyphs">SGRB bound</text>
<polyline points="867.3,686.5 924.0,686.5" fill="none" stroke="#5a5a5a" stroke-width="1.5" stroke-linejoin="round"/>
<text x="930.70" y="695.70" font-size="31" fill="#111" textLength="162.0" lengthAdjust="spacingAndGlyphs">SGRB error</text>
<polyline points="867.3,725.6 924.0,725.6" fill="none" stroke="#5a5a5a" stroke-width="1.5" stroke-linejoin="round" stroke-dasharray="1.33 6.63"/>
<text x="930.70" y="734.80" font-size="31" fill="#111" textLength="117.1" lengthAdjust="spacingAndGlyphs">FE error</text>
<polyline points="867.3,764.4 924.0,764.4" fill="none" stroke="#5a5a5a" stroke-width="1.5" stroke-linejoin="round" stroke-dasharray="9.95 6.63 1.33 6.63"/>
<text x="930.70" y="773.60" font-size="31" fill="#111" textLength="118.1" lengthAdjust="spacingAndGlyphs">SG error</text>
<rect x="839.40" y="76.50" width="560.20" height="737.00" fill="none" stroke="#606060" stroke-width="1.6"/>
<line x1="240.97" y1="1627.80" x2="240.97" y2="1613.80" stroke="#bdbdbd" stroke-width="1"/>
<line x1="240.97" y1="890.70" x2="240.97" y2="904.70" stroke="#bdbdbd" stroke-width="1"/>
<line x1="334.33" y1="1627.80" x2="334.33" y2="1613.80" stroke="#bdbdbd" stroke-width="1"/>
<line x1="334.33" y1="890.70" x2="334.33" y2="904.70" stroke="#bdbdbd" stroke-width="1"/>
<line x1="427.70" y1="1627.80" x2="427.70" y2="1613.80" stroke="#bdbdbd" stroke-width="1"/>
<line x1="427.70" y1="890.70" x2="427.70" y2="904.70" stroke="#bdbdbd" stroke-width="1"/>
<line x1="521.07" y1="1627.80" x2="521.07" y2="1613.80" stroke="#bdbdbd" stroke-width="1"/>
<line x1="521.07" y1="890.70" x2="521.07" y2="904.70" stroke="#bdbdbd" stroke-width="1"/>
<line x1="614.43" y1="1627.80" x2="614.43" y2="1613.80" stroke="#bdbdbd" stroke-width="1"/>
<line x1="614.43" y1="890.70" x2="614.43" y2="904.70" stroke="#bdbdbd" stroke-width="1"/>
<line x1="147.60" y1="1013.55" x2="161.60" y2="1013.55" stroke="#bdbdbd" stroke-width="1"/>
<line x1="707.80" y1="1013.55" x2="693.80" y2="1013.55" stroke="#bdbdbd" stroke-width="1"/>
<line x1="147.60" y1="1136.40" x2="161.60" y2="1136.40" stroke="#bdbdbd" stroke-width="1"/>
<line x1="707.80" y1="1136.40" x2="693.80" y2="1136.40" stroke="#bdbdbd" stroke-width="1"/>
<line x1="147.60" y1="1259.25" x2="161.60" y2="1259.25" stroke="#bdbdbd" stroke-width="1"/>
<line x1="707.80" y1="1259.25" x2="693.80" y2="1259.25" stroke="#bdbdbd" stroke-width="1"/>
<line x1="147.60" y1="1382.10" x2="161.60" y2="1382.10" stroke="#bdbdbd" stroke-width="1"/>
<line x1="707.80" y1="1382.10" x2="693.80" y2="1382.10" stroke="#bdbdbd" stroke-width="1"/>
<line x1="147.60" y1="1504.95" x2="161.60" y2="1504.95" stroke="#bdbdbd" stroke-width="1"/>
<line x1="707.80" y1="1504.95" x2="693.80" y2="1504.95" stroke="#bdbdbd" stroke-width="1"/>
<text x="135.10" y="901.70" text-anchor="end" font-size="37.5" fill="#111">4</text>
<rect x="91.95" y="890.98" width="22.00" height="1.45" fill="#111"/>
<text x="135.10" y="1024.55" text-anchor="end" font-size="37.5" fill="#111">6</text>
<rect x="91.95" y="1013.83" width="22.00" height="1.45" fill="#111"/>
<text x="135.10" y="1147.40" text-anchor="end" font-size="37.5" fill="#111">8</text>
<rect x="91.95" y="1136.68" width="22.00" height="1.45" fill="#111"/>
<text x="135.10" y="1270.25" text-anchor="end" font-size="37.5" fill="#111">10</text>
<rect x="73.20" y="1259.53" width="22.00" height="1.45" fill="#111"/>
<text x="135.10" y="1393.10" text-anchor="end" font-size="37.5" fill="#111">12</text>
<rect x="73.20" y="1382.38" width="22.00" height="1.45" fill="#111"/>
<text x="135.10" y="1515.95" text-anchor="end" font-size="37.5" fill="#111">14</text>
<rect x="73.20" y="1505.22" width="22.00" height="1.45" fill="#111"/>
<text x="135.10" y="1638.80" text-anchor="end" font-size="37.5" fill="#111">16</text>
<rect x="73.20" y="1628.08" width="22.00" height="1.45" fill="#111"/>
<text x="147.60" y="1664.80" text-anchor="middle" font-size="37.5" fill="#111">1</text>
<text x="240.97" y="1664.80" text-anchor="middle" font-size="37.5" fill="#111">2</text>
<text x="334.33" y="1664.80" text-anchor="middle" font-size="37.5" fill="#111">4</text>
<text x="427.70" y="1664.80" text-anchor="middle" font-size="37.5" fill="#111">8</text>
<text x="521.07" y="1664.80" text-anchor="middle" font-size="37.5" fill="#111">16</text>
<text x="614.43" y="1664.80" text-anchor="middle" font-size="37.5" fill="#111">32</text>
<text x="707.80" y="1664.80" text-anchor="middle" font-size="37.5" fill="#111">64</text>
<polyline points="147.6,1202.5 707.8,1202.5" fill="none" stroke="#5a5a5a" stroke-width="1.5" stroke-linejoin="round" stroke-dasharray="1.33 6.63" clip-path="url(#cbl)"/>
<polyline points="147.6,1487.0 707.8,1487.0" fill="none" stroke="#5a5a5a" stroke-width="1.5" stroke-linejoin="round" stroke-dasharray="9.95 6.63 1.33 6.63" clip-path="url(#cbl)"/>
<polyline points="147.6,1007.2 364.4,1159.9 389.0,1169.5 409.7,1194.0 427.7,1231.8 443.6,1240.0 457.8,1248.0 470.6,1259.5 482.3,1274.0 493.1,1279.5 503.1,1283.8 512.4,1284.0 521.1,1278.0 529.2,1306.0 536.9,1312.5 544.2,1319.5 551.1,1323.5 557.7,1328.7 564.0,1331.0 570.0,1332.3 575.7,1330.7 581.2,1340.3 586.5,1347.5 591.5,1350.0 596.5,1352.3 601.2,1357.5 605.7,1356.5 610.2,1361.7 614.4,1362.1 618.6,1357.6 622.6,1365.0 626.5,1371.4 630.3,1375.0 634.0,1377.6 637.6,1377.6 641.1,1361.9 644.5,1399.4 647.8,1390.6 651.1,1401.0 654.2,1407.0 657.3,1407.5 660.4,1407.9 663.3,1411.7 666.2,1411.0 669.0,1420.1 671.8,1391.4 674.5,1420.1 677.2,1425.0 679.8,1430.1 682.4,1430.3 684.9,1430.5 687.4,1429.3 689.8,1430.0 692.2,1431.0 694.5,1432.8 696.8,1430.9 699.1,1437.5 701.3,1440.0 703.5,1442.5 705.7,1444.0 707.8,1445.5" fill="none" stroke="#5a5a5a" stroke-width="1.5" stroke-linejoin="round" stroke-dasharray="9.95 9.95" clip-path="url(#cbl)"/>
<polyline points="147.6,1317.2 241.0,1341.9 295.6,1390.0 334.3,1441.3 364.4,1449.5 388.9,1382.7 409.7,1393.6 427.7,1426.5 443.6,1419.6 457.8,1409.4 470.6,1422.6 482.3,1436.2 493.1,1513.0 503.1,1451.8 512.4,1434.8 521.1,1434.8 529.2,1470.0 536.9,1505.4 544.2,1523.0 551.1,1540.3 557.7,1509.2 564.0,1513.0 570.0,1481.0 575.7,1475.7 581.2,1501.7 586.5,1491.0 591.5,1481.0 596.5,1487.0 601.2,1493.2 605.7,1497.5 610.2,1505.1 614.4,1501.7 618.6,1475.3 622.6,1529.9 626.5,1508.3 630.3,1558.2 634.0,1524.3 637.6,1540.3 641.1,1516.1 644.5,1529.0 647.8,1535.0 651.1,1542.9 654.2,1541.0 657.3,1542.0 660.4,1545.6 663.3,1546.6 666.2,1542.9 669.0,1549.3 671.8,1493.5 674.5,1577.0 677.2,1557.2 679.8,1589.9 682.4,1600.0 684.9,1612.1 687.4,1577.0 689.8,1569.2 692.2,1650.0 694.5,1650.0 696.8,1592.7 699.1,1650.0 701.3,1576.1 703.5,1580.7 705.7,1621.3 707.8,1599.2" fill="none" stroke="#5a5a5a" stroke-width="1.5" stroke-linejoin="round" clip-path="url(#cbl)"/>
<rect x="166.60" y="1434.80" width="278.70" height="171.00" fill="#fff"/>
<polyline points="175.5,1461.0 232.2,1461.0" fill="none" stroke="#5a5a5a" stroke-width="1.5" stroke-linejoin="round" stroke-dasharray="9.95 9.95"/>
<text x="238.90" y="1470.20" font-size="31" fill="#111" textLength="190.2" lengthAdjust="spacingAndGlyphs">MCRB bound</text>
<polyline points="175.5,1500.7 232.2,1500.7" fill="none" stroke="#5a5a5a" stroke-width="1.5" stroke-linejoin="round"/>
<text x="238.90" y="1509.90" font-size="31" fill="#111" textLength="170.4" lengthAdjust="spacingAndGlyphs">MCRB error</text>
<polyline points="175.5,1539.8 232.2,1539.8" fill="none" stroke="#5a5a5a" stroke-width="1.5" stroke-linejoin="round" stroke-dasharray="1.33 6.63"/>
<text x="238.90" y="1549.00" font-size="31" fill="#111" textLength="117.0" lengthAdjust="spacingAndGlyphs">FE error</text>
<polyline points="175.5,1578.6 232.2,1578.6" fill="none" stroke="#5a5a5a" stroke-width="1.5" stroke-linejoin="round" stroke-dasharray="9.95 6.63 1.33 6.63"/>
<text x="238.90" y="1587.80" font-size="31" fill="#111" textLength="125.4" lengthAdjust="spacingAndGlyphs">MC error</text>
<rect x="147.60" y="890.70" width="560.20" height="737.10" fill="none" stroke="#606060" stroke-width="1.6"/>
<line x1="932.77" y1="1627.80" x2="932.77" y2="1613.80" stroke="#bdbdbd" stroke-width="1"/>
<line x1="932.77" y1="890.70" x2="932.77" y2="904.70" stroke="#bdbdbd" stroke-width="1"/>
<line x1="1026.13" y1="1627.80" x2="1026.13" y2="1613.80" stroke="#bdbdbd" stroke-width="1"/>
<line x1="1026.13" y1="890.70" x2="1026.13" y2="904.70" stroke="#bdbdbd" stroke-width="1"/>
<line x1="1119.50" y1="1627.80" x2="1119.50" y2="1613.80" stroke="#bdbdbd" stroke-width="1"/>
<line x1="1119.50" y1="890.70" x2="1119.50" y2="904.70" stroke="#bdbdbd" stroke-width="1"/>
<line x1="1212.87" y1="1627.80" x2="1212.87" y2="1613.80" stroke="#bdbdbd" stroke-width="1"/>
<line x1="1212.87" y1="890.70" x2="1212.87" y2="904.70" stroke="#bdbdbd" stroke-width="1"/>
<line x1="1306.23" y1="1627.80" x2="1306.23" y2="1613.80" stroke="#bdbdbd" stroke-width="1"/>
<line x1="1306.23" y1="890.70" x2="1306.23" y2="904.70" stroke="#bdbdbd" stroke-width="1"/>
<line x1="839.40" y1="1013.55" x2="853.40" y2="1013.55" stroke="#bdbdbd" stroke-width="1"/>
<line x1="1399.60" y1="1013.55" x2="1385.60" y2="1013.55" stroke="#bdbdbd" stroke-width="1"/>
<line x1="839.40" y1="1136.40" x2="853.40" y2="1136.40" stroke="#bdbdbd" stroke-width="1"/>
<line x1="1399.60" y1="1136.40" x2="1385.60" y2="1136.40" stroke="#bdbdbd" stroke-width="1"/>
<line x1="839.40" y1="1259.25" x2="853.40" y2="1259.25" stroke="#bdbdbd" stroke-width="1"/>
<line x1="1399.60" y1="1259.25" x2="1385.60" y2="1259.25" stroke="#bdbdbd" stroke-width="1"/>
<line x1="839.40" y1="1382.10" x2="853.40" y2="1382.10" stroke="#bdbdbd" stroke-width="1"/>
<line x1="1399.60" y1="1382.10" x2="1385.60" y2="1382.10" stroke="#bdbdbd" stroke-width="1"/>
<line x1="839.40" y1="1504.95" x2="853.40" y2="1504.95" stroke="#bdbdbd" stroke-width="1"/>
<line x1="1399.60" y1="1504.95" x2="1385.60" y2="1504.95" stroke="#bdbdbd" stroke-width="1"/>
<text x="826.90" y="901.70" text-anchor="end" font-size="37.5" fill="#111">4</text>
<rect x="783.75" y="890.98" width="22.00" height="1.45" fill="#111"/>
<text x="826.90" y="1024.55" text-anchor="end" font-size="37.5" fill="#111">6</text>
<rect x="783.75" y="1013.83" width="22.00" height="1.45" fill="#111"/>
<text x="826.90" y="1147.40" text-anchor="end" font-size="37.5" fill="#111">8</text>
<rect x="783.75" y="1136.68" width="22.00" height="1.45" fill="#111"/>
<text x="826.90" y="1270.25" text-anchor="end" font-size="37.5" fill="#111">10</text>
<rect x="765.00" y="1259.53" width="22.00" height="1.45" fill="#111"/>
<text x="826.90" y="1393.10" text-anchor="end" font-size="37.5" fill="#111">12</text>
<rect x="765.00" y="1382.38" width="22.00" height="1.45" fill="#111"/>
<text x="826.90" y="1515.95" text-anchor="end" font-size="37.5" fill="#111">14</text>
<rect x="765.00" y="1505.22" width="22.00" height="1.45" fill="#111"/>
<text x="826.90" y="1638.80" text-anchor="end" font-size="37.5" fill="#111">16</text>
<rect x="765.00" y="1628.08" width="22.00" height="1.45" fill="#111"/>
<text x="839.40" y="1664.80" text-anchor="middle" font-size="37.5" fill="#111">1</text>
<text x="932.77" y="1664.80" text-anchor="middle" font-size="37.5" fill="#111">2</text>
<text x="1026.13" y="1664.80" text-anchor="middle" font-size="37.5" fill="#111">4</text>
<text x="1119.50" y="1664.80" text-anchor="middle" font-size="37.5" fill="#111">8</text>
<text x="1212.87" y="1664.80" text-anchor="middle" font-size="37.5" fill="#111">16</text>
<text x="1306.23" y="1664.80" text-anchor="middle" font-size="37.5" fill="#111">32</text>
<text x="1399.60" y="1664.80" text-anchor="middle" font-size="37.5" fill="#111">64</text>
<polyline points="839.4,1202.5 1399.6,1202.5" fill="none" stroke="#5a5a5a" stroke-width="1.5" stroke-linejoin="round" stroke-dasharray="1.33 6.63" clip-path="url(#cbr)"/>
<polyline points="839.4,1621.0 1399.6,1621.0" fill="none" stroke="#5a5a5a" stroke-width="1.5" stroke-linejoin="round" stroke-dasharray="9.95 6.63 1.33 6.63" clip-path="url(#cbr)"/>
<polyline points="839.4,947.8 932.8,991.8 987.4,1002.5 1026.1,1024.6 1056.2,1024.8 1080.8,1022.7 1101.5,1050.0 1119.5,1092.5 1135.4,1092.2 1149.6,1088.7 1162.4,1084.9 1174.1,1102.3 1184.9,1114.0 1194.9,1123.5 1204.2,1119.4 1212.9,1122.0 1221.0,1135.0 1228.7,1144.3 1236.0,1146.5 1242.9,1151.0 1249.5,1156.5 1255.8,1159.5 1261.8,1163.6 1267.5,1164.2 1273.0,1165.2 1278.3,1174.5 1283.3,1181.0 1288.2,1199.0 1293.0,1210.0 1297.5,1216.5 1302.0,1220.5 1306.2,1220.5 1310.4,1221.5 1314.4,1222.1 1318.3,1236.0 1322.1,1245.3 1325.8,1248.8 1329.4,1248.6 1332.9,1248.5 1336.3,1248.4 1339.6,1249.5 1342.9,1265.5 1346.0,1273.0 1349.1,1275.0 1352.2,1276.5 1355.1,1278.3 1358.0,1283.5 1360.8,1287.5 1363.6,1289.5 1366.3,1291.3 1369.0,1295.9 1371.6,1296.6 1374.2,1297.2 1376.7,1298.0 1379.2,1298.7 1381.6,1299.4 1384.0,1298.0 1386.3,1296.7 1388.6,1299.0 1390.9,1300.5 1393.1,1302.0 1395.3,1303.5 1397.5,1304.4 1399.6,1313.0" fill="none" stroke="#5a5a5a" stroke-width="1.5" stroke-linejoin="round" stroke-dasharray="9.95 9.95" clip-path="url(#cbr)"/>
<polyline points="839.4,1216.6 932.8,1199.2 987.4,1284.0 1026.1,1287.7 1056.2,1302.0 1080.8,1270.4 1101.5,1347.4 1119.5,1441.8 1135.4,1479.9 1149.6,1384.1 1162.4,1394.9 1174.1,1457.3 1184.9,1374.4 1194.9,1403.9 1204.2,1390.8 1212.9,1388.6 1221.0,1420.9 1228.7,1514.4 1236.0,1493.5 1242.9,1527.8 1249.5,1534.5 1255.8,1577.3 1261.8,1462.3 1267.5,1463.9 1273.0,1462.3 1278.3,1465.2 1283.3,1465.7 1288.2,1501.5 1293.0,1566.6 1297.5,1532.7 1302.0,1562.8 1306.2,1564.7 1310.4,1550.3 1314.4,1571.6 1318.3,1530.2 1322.1,1555.9 1325.8,1545.3 1329.4,1552.0 1332.9,1559.1 1336.3,1561.0 1339.6,1557.2 1342.9,1645.0 1346.0,1620.0 1349.1,1645.0 1352.2,1645.0 1355.1,1627.0 1358.0,1601.8 1360.8,1630.0 1363.6,1601.0 1366.3,1623.0 1369.0,1601.0 1371.6,1610.0 1374.2,1597.0 1376.7,1596.0 1379.2,1612.0 1381.6,1610.0 1384.0,1600.0 1386.3,1592.0 1388.6,1595.0 1390.9,1650.0 1393.1,1660.0 1395.3,1660.0 1397.5,1660.0 1399.6,1660.0" fill="none" stroke="#5a5a5a" stroke-width="1.5" stroke-linejoin="round" clip-path="url(#cbr)"/>
<rect x="858.40" y="1434.80" width="269.60" height="171.00" fill="#fff"/>
<polyline points="867.3,1461.0 924.0,1461.0" fill="none" stroke="#5a5a5a" stroke-width="1.5" stroke-linejoin="round" stroke-dasharray="9.95 9.95"/>
<text x="930.70" y="1470.20" font-size="31" fill="#111" textLength="181.9" lengthAdjust="spacingAndGlyphs">SGRB bound</text>
<polyline points="867.3,1500.7 924.0,1500.7" fill="none" stroke="#5a5a5a" stroke-width="1.5" stroke-linejoin="round"/>
<text x="930.70" y="1509.90" font-size="31" fill="#111" textLength="162.0" lengthAdjust="spacingAndGlyphs">SGRB error</text>
<polyline points="867.3,1539.8 924.0,1539.8" fill="none" stroke="#5a5a5a" stroke-width="1.5" stroke-linejoin="round" stroke-dasharray="1.33 6.63"/>
<text x="930.70" y="1549.00" font-size="31" fill="#111" textLength="117.1" lengthAdjust="spacingAndGlyphs">FE error</text>
<polyline points="867.3,1578.6 924.0,1578.6" fill="none" stroke="#5a5a5a" stroke-width="1.5" stroke-linejoin="round" stroke-dasharray="9.95 6.63 1.33 6.63"/>
<text x="930.70" y="1587.80" font-size="31" fill="#111" textLength="118.1" lengthAdjust="spacingAndGlyphs">SG error</text>
<rect x="839.40" y="890.70" width="560.20" height="737.10" fill="none" stroke="#606060" stroke-width="1.6"/>
<text transform="translate(39.8,446.2) rotate(-90)" text-anchor="middle" font-size="35.5" fill="#111" style="stroke-width:0.5px" textLength="548" lengthAdjust="spacingAndGlyphs">log<tspan font-size="25.5" dy="8.5">10</tspan><tspan dy="-8.5"> of absolute expectation error</tspan></text>
<text transform="translate(39.8,1261.1) rotate(-90)" text-anchor="middle" font-size="35.5" fill="#111" style="stroke-width:0.5px" textLength="498" lengthAdjust="spacingAndGlyphs">log<tspan font-size="25.5" dy="8.5">10</tspan><tspan dy="-8.5"> of absolute variance error</tspan></text>
<text x="429.0" y="1715.6" text-anchor="middle" font-size="37.5" font-style="italic" fill="#111" textLength="27" lengthAdjust="spacingAndGlyphs">R</text>
<text x="1120.6" y="1715.6" text-anchor="middle" font-size="37.5" font-style="italic" fill="#111" textLength="27" lengthAdjust="spacingAndGlyphs">R</text>
</svg>
</body></html>
